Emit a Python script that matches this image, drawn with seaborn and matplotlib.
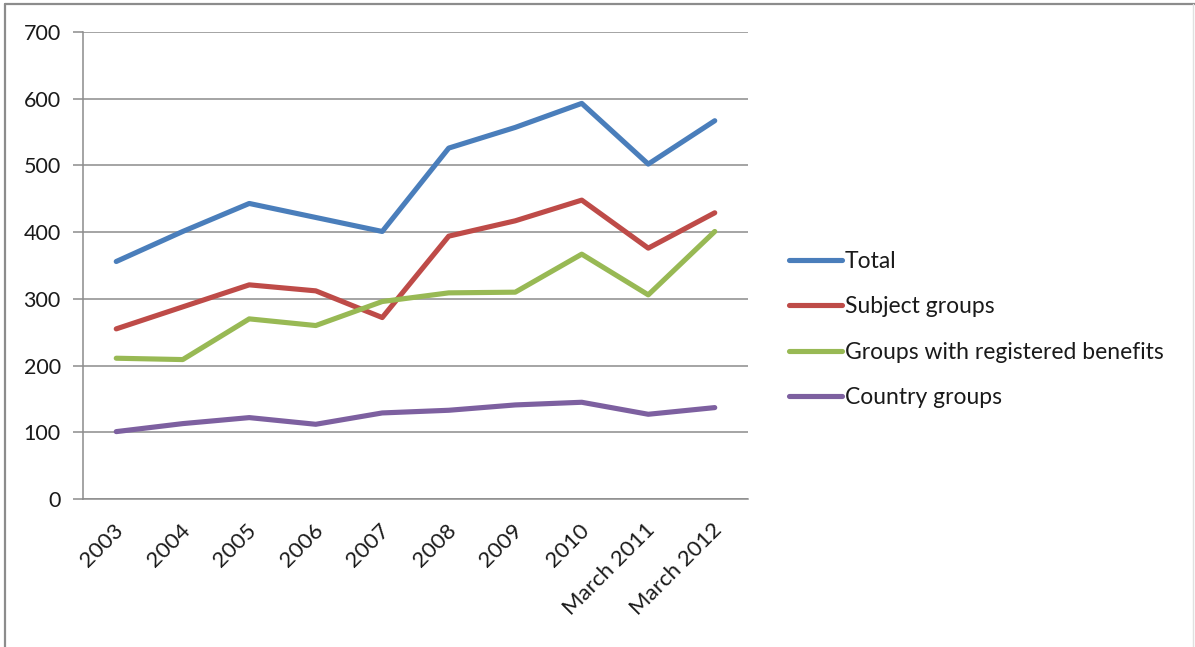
import matplotlib
matplotlib.use("Agg")
import matplotlib.pyplot as plt
import matplotlib.transforms as mtransforms
from matplotlib.lines import Line2D
import seaborn as sns
import pandas as pd

categories = ["2003", "2004", "2005", "2006", "2007", "2008", "2009", "2010",
              "March 2011", "March 2012"]
total = [356, 401, 443, 422, 401, 526, 557, 593, 502, 567]
subject_groups = [255, 288, 321, 312, 272, 394, 417, 448, 376, 429]
registered_benefits = [211, 209, 270, 260, 296, 309, 310, 367, 306, 401]
country_groups = [101, 113, 122, 112, 129, 133, 141, 145, 127, 137]
series_names = ["Total", "Subject groups", "Groups with registered benefits", "Country groups"]
colors = ["#4A7EBB", "#BE4B48", "#98B954", "#7D60A0"]
y_ticks = [0, 100, 200, 300, 400, 500, 600, 700]

rows = []
for name, vals in zip(series_names, [total, subject_groups, registered_benefits, country_groups]):
    for c, v in zip(categories, vals):
        rows.append({"category": c, "value": v, "series": name})
df = pd.DataFrame(rows)

sns.set_theme(style="white")
plt.rcParams["font.family"] = ["Lato", "DejaVu Sans"]

fig = plt.figure(figsize=(11.95, 6.47), dpi=100)
ax = fig.add_axes([83 / 1195, 1 - 499 / 647, (748 - 83) / 1195, (499 - 32) / 647])

sns.lineplot(data=df, x="category", y="value", hue="series", palette=colors,
             hue_order=series_names, linewidth=3.7, ax=ax, legend=False, sort=False)

ax.set_xlim(-0.5, len(categories) - 0.5)
ax.set_ylim(0, 700)
ax.set_yticks(y_ticks)
ax.set_yticklabels([str(t) for t in y_ticks])
ax.set_xlabel("")
ax.set_ylabel("")
ax.grid(axis="y", color="#8c8c8c", linewidth=1.1)
ax.set_axisbelow(True)
for s in ["top", "right"]:
    ax.spines[s].set_visible(False)
for s in ["left", "bottom"]:
    ax.spines[s].set_color("#8c8c8c")
    ax.spines[s].set_linewidth(1.1)

# Excel-style ticks between categories
ax.set_xticks(range(len(categories)))
ax.set_xticklabels(categories, rotation=45, ha="right", va="top",
                   rotation_mode="anchor", fontsize=16, color="#1a1a1a")
ax.set_xticks([i - 0.5 for i in range(len(categories) + 1)], minor=True)
ax.tick_params(axis="x", which="major", length=0, pad=15)
ax.tick_params(axis="x", which="minor", length=5, width=1.1, color="#8c8c8c", direction="out")
ax.tick_params(axis="y", which="major", length=7, width=1.1, color="#8c8c8c",
               direction="out", pad=9, labelsize=15.5, labelcolor="#1a1a1a")
ax.tick_params(left=True, bottom=True)

offset = mtransforms.ScaledTranslation(-3 / 100, 0, fig.dpi_scale_trans)
for lbl in ax.get_xticklabels():
    lbl.set_transform(lbl.get_transform() + offset)

handles = [Line2D([0], [0], color=c, linewidth=3.7) for c in colors]
fig.legend(handles, series_names, loc="upper left",
           bbox_to_anchor=(768 / 1195, 1 - 230 / 647), frameon=False,
           fontsize=16.5, handlelength=2.35, handletextpad=0.1,
           labelspacing=1.07, labelcolor="#1a1a1a")

# chart-area border
fig.add_artist(Line2D([5 / 1195, 1], [1 - 4 / 647, 1 - 4 / 647], color="#8c8c8c",
                      linewidth=1.6, transform=fig.transFigure))
fig.add_artist(Line2D([5 / 1195, 5 / 1195], [0, 1 - 4 / 647], color="#8c8c8c",
                      linewidth=1.6, transform=fig.transFigure))
fig.add_artist(Line2D([1193 / 1195, 1193 / 1195], [0, 1 - 4 / 647], color="#e0e0e0",
                      linewidth=1.0, transform=fig.transFigure))

fig.savefig("out.png", dpi=100)
